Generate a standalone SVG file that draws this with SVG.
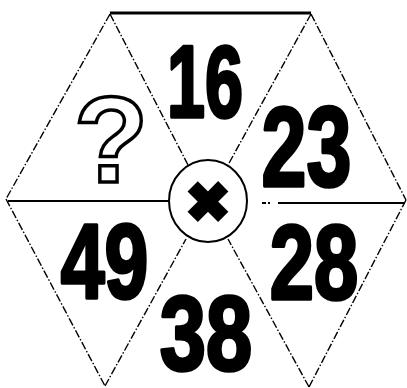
<svg xmlns="http://www.w3.org/2000/svg" width="407" height="388" viewBox="0 0 407 388">
<style>
.dd{fill:none;stroke:#000;stroke-width:1.4;stroke-dasharray:8 2 1.5 2}
.sl{fill:none;stroke:#000;stroke-width:2}
.num{font-family:"Liberation Sans",Arial,sans-serif;font-weight:bold;fill:#000;stroke:#000;stroke-width:3.5;stroke-linejoin:round;text-anchor:middle}
.q{font-family:"Liberation Sans",Arial,sans-serif;font-weight:bold;fill:#fff;stroke:#000;stroke-width:3.5;stroke-linejoin:miter;text-anchor:middle}
</style>
<rect width="407" height="388" fill="#fff"/>
<g id="connectors">
<line x1="110" y1="13" x2="311" y2="13" stroke="#000" stroke-width="3"/>
<line class="dd" x1="110" y1="14" x2="6" y2="199"/>
<line class="dd" x1="6" y1="199" x2="105" y2="386"/>
<line class="dd" x1="311" y1="14" x2="406" y2="200"/>
<line class="dd" x1="406" y1="200" x2="309" y2="387"/>
<line class="dd" x1="110" y1="14" x2="188" y2="165"/>
<line class="dd" x1="311" y1="14" x2="228" y2="165"/>
<line class="dd" x1="105" y1="386" x2="186" y2="239"/>
<line class="dd" x1="309" y1="387" x2="228" y2="239"/>
<line class="sl" x1="8" y1="201" x2="169" y2="201"/>
<line class="sl" x1="262" y1="203" x2="270" y2="203" stroke-dasharray="4 2"/>
<line class="sl" x1="278" y1="203" x2="405" y2="203"/>
</g>
<g id="center">
<ellipse cx="208" cy="201" rx="39" ry="41" fill="#fff" stroke="#000" stroke-width="2"/>
<text x="208" y="222" font-family="DejaVu Sans,sans-serif" font-size="56" text-anchor="middle" fill="#000" stroke="#000" stroke-width="2.5">✖</text>
</g>
<g id="n16"><text class="num" font-size="102" transform="translate(205,116.5) scale(0.67,1)">16</text></g>
<g id="n23"><text class="num" font-size="113" transform="translate(306.5,185.5) scale(0.715,1)">23</text></g>
<g id="n28"><text class="num" font-size="106" transform="translate(314,298.5) scale(0.75,1)">28</text></g>
<g id="n38"><text class="num" font-size="105" transform="translate(206,369.5) scale(0.79,1)">38</text></g>
<g id="n49"><text class="num" font-size="106" transform="translate(104.5,298) scale(0.744,1)">49</text></g>
<g id="nq"><text class="q" font-size="122" transform="translate(111,182) scale(1,1)">?</text></g>
</svg>
